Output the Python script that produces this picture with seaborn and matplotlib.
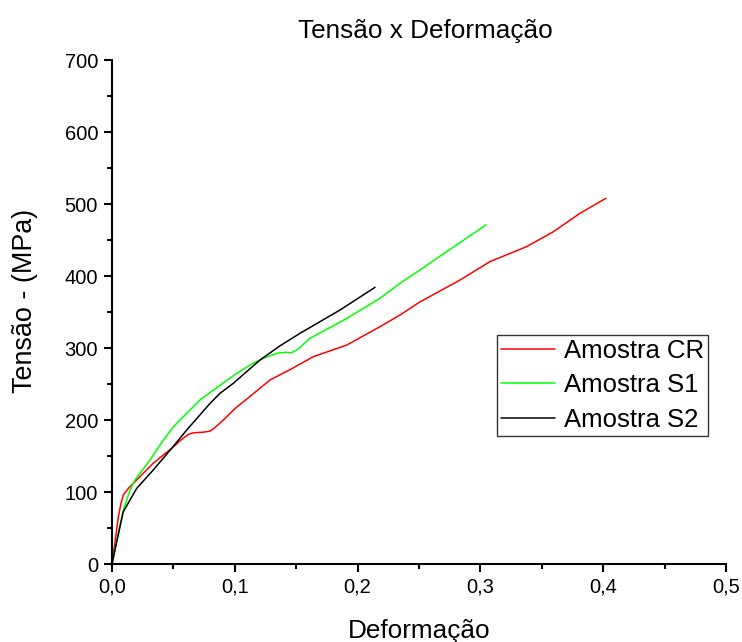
import matplotlib
matplotlib.use("Agg")
import matplotlib.pyplot as plt
from matplotlib.ticker import MultipleLocator, FuncFormatter
import seaborn as sns
import pandas as pd

# Stress-strain curves (strain, stress in MPa)
cr_strain = [0.0, 0.0052, 0.0073, 0.0092, 0.0133, 0.0201, 0.0336, 0.0486, 0.056, 0.0622,
             0.0665, 0.074, 0.0798, 0.0835, 0.0907, 0.1002, 0.1097, 0.1287, 0.145, 0.164,
             0.1911, 0.2182, 0.2345, 0.2508, 0.2834, 0.3078, 0.3376, 0.3594, 0.381, 0.4023]
cr_stress = [0.0, 65.7, 84.0, 95.8, 105.0, 116.7, 140.0, 160.7, 172.0, 180.0,
             182.3, 183.0, 184.5, 189.0, 200.0, 216.0, 229.0, 255.6, 270.0, 288.0,
             304.0, 329.6, 345.8, 364.0, 394.4, 420.0, 440.7, 461.5, 487.0, 508.0]

s1_strain = [0.0, 0.0045, 0.0092, 0.0147, 0.0187, 0.0228, 0.031, 0.0418, 0.05, 0.0717,
             0.0879, 0.0988, 0.1124, 0.1232, 0.1341, 0.1405, 0.1463, 0.1512, 0.1612, 0.1911,
             0.2182, 0.2345, 0.2508, 0.2725, 0.3046]
s1_stress = [0.0, 38.0, 75.0, 102.8, 116.7, 126.0, 144.4, 172.0, 190.7, 228.0,
             248.0, 261.5, 276.4, 285.7, 292.6, 294.0, 293.5, 298.0, 313.4, 341.0,
             369.0, 389.8, 408.3, 433.8, 471.0]

s2_strain = [0.0, 0.0045, 0.0092, 0.0201, 0.0336, 0.0486, 0.0608, 0.0798, 0.0879, 0.0988,
             0.1205, 0.1368, 0.1531, 0.1857, 0.2142]
s2_stress = [0.0, 36.0, 72.6, 105.0, 130.6, 160.7, 186.0, 223.0, 237.0, 251.0,
             283.3, 303.0, 320.4, 352.8, 384.3]

series_names = ["Amostra CR", "Amostra S1", "Amostra S2"]
series_colors = ["#FF0000", "#00FF00", "#000000"]

frames = []
for name, xs, ys in zip(series_names, [cr_strain, s1_strain, s2_strain],
                        [cr_stress, s1_stress, s2_stress]):
    frames.append(pd.DataFrame({"Deformação": xs, "Tensão": ys, "Amostra": name}))
df = pd.concat(frames, ignore_index=True)

sns.set_theme(style="ticks")
plt.rcParams["font.family"] = ["Liberation Sans", "DejaVu Sans"]
plt.rcParams["text.color"] = "black"
plt.rcParams["axes.labelcolor"] = "black"

fig = plt.figure(figsize=(7.42, 6.42), dpi=100)
ax = fig.add_axes([112 / 742, 78 / 642, 614 / 742, 504 / 642])

sns.lineplot(data=df, x="Deformação", y="Tensão", hue="Amostra",
             palette=dict(zip(series_names, series_colors)), sort=False,
             estimator=None, units="Amostra", linewidth=1.1, ax=ax)

ax.set_xlim(0, 0.5)
ax.set_ylim(0, 700)
ax.xaxis.set_major_locator(MultipleLocator(0.1))
ax.xaxis.set_minor_locator(MultipleLocator(0.05))
ax.yaxis.set_major_locator(MultipleLocator(100))
ax.yaxis.set_minor_locator(MultipleLocator(50))
ax.xaxis.set_major_formatter(FuncFormatter(lambda v, p: f"{v:.1f}".replace(".", ",")))
ax.yaxis.set_major_formatter(FuncFormatter(lambda v, p: f"{v:.0f}"))

for side in ["top", "right"]:
    ax.spines[side].set_visible(False)
for side in ["left", "bottom"]:
    ax.spines[side].set_linewidth(1.5)
    ax.spines[side].set_color("black")

ax.tick_params(which="major", direction="out", length=6, width=1.5, labelsize=14.5,
               colors="black", pad=4)
ax.tick_params(which="minor", direction="out", length=3.5, width=1.5, colors="black")

ax.set_xlabel("Deformação", fontsize=18.8, labelpad=16, color="black")
ax.set_ylabel("Tensão - (MPa)", fontsize=19.4, color="black")
ax.yaxis.set_label_coords(-0.121, 0.522)
ax.set_title("Tensão x Deformação", fontsize=18.8, pad=16, x=0.51, color="black")

leg = ax.legend(loc="upper left", bbox_to_anchor=(0.627, 0.455), fontsize=18.5,
                frameon=True, fancybox=False, edgecolor="black", handlelength=2.1,
                handletextpad=0.35, borderpad=0.15, labelspacing=0.42, borderaxespad=0)
leg.get_frame().set_linewidth(1.0)
for txt in leg.get_texts():
    txt.set_color("black")

fig.savefig("out.png", dpi=100)
